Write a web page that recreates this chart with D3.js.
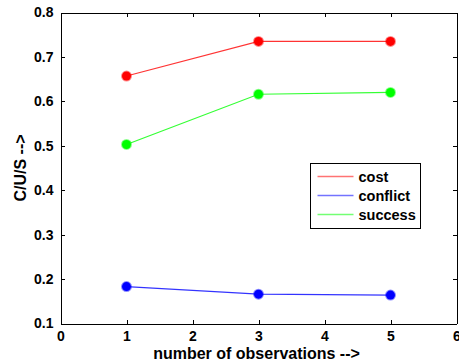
<!DOCTYPE html>
<html>
<head>
<meta charset="utf-8">
<script src="https://cdn.jsdelivr.net/npm/d3@7"></script>
<style>
  body { margin: 0; background: #fff; }
  svg text { font-family: Arial, "Liberation Sans", sans-serif; font-weight: bold; }
</style>
</head>
<body>
<svg id="chart"></svg>
<script>
const observations = [1, 3, 5];
const cost = [0.657, 0.735, 0.735];
const conflict = [0.183, 0.166, 0.164];
const success = [0.503, 0.616, 0.620];
const xTicks = [0, 1, 2, 3, 4, 5, 6];
const yTicks = [0.1, 0.2, 0.3, 0.4, 0.5, 0.6, 0.7, 0.8];
const seriesNames = ['cost', 'conflict', 'success'];
const seriesColors = ['#ff0000', '#0000ff', '#00ff00'];

const series = [cost, conflict, success].map((vals, i) => ({
  name: seriesNames[i],
  color: seriesColors[i],
  values: vals.map((v, j) => ({x: observations[j], y: v}))
}));

// dimensions
const W = 459, H = 362;
const margin = {top: 12.5, bottom: 38.5, left: 60.5, right: 2.5};
const width = W - margin.left - margin.right;
const height = H - margin.top - margin.bottom;

const x = d3.scaleLinear().domain([0, 6]).range([0, width]);
const y = d3.scaleLinear().domain([0.1, 0.8]).range([height, 0]);

const svg = d3.select('#chart').attr('width', W).attr('height', H);
const g = svg.append('g').attr('transform', 'translate(' + margin.left + ',' + margin.top + ')');

// axes (MATLAB style: ticks inward on all four sides)
const tl = 4;
const fmtY = d => d.toFixed(1);

g.append('g')
  .attr('class', 'axis x')
  .attr('transform', 'translate(0,' + height + ')')
  .call(d3.axisBottom(x).tickValues(xTicks).tickFormat(d3.format('d')).tickSize(-tl).tickPadding(8).tickSizeOuter(0));

g.append('g')
  .attr('class', 'axis y')
  .call(d3.axisLeft(y).tickValues(yTicks).tickFormat(fmtY).tickSize(-tl).tickPadding(7).tickSizeOuter(0));

g.append('g')
  .attr('class', 'axis top')
  .call(d3.axisTop(x).tickValues(xTicks).tickSize(-tl).tickFormat('').tickSizeOuter(0));

g.append('g')
  .attr('class', 'axis right')
  .attr('transform', 'translate(' + width + ',0)')
  .call(d3.axisRight(y).tickValues(yTicks).tickSize(-tl).tickFormat('').tickSizeOuter(0));

g.selectAll('.axis path, .axis line').attr('stroke', '#000').attr('shape-rendering', 'crispEdges');
g.selectAll('.axis text').attr('fill', '#000').style('font-size', '14px');

// lines
const line = d3.line().x(d => x(d.x)).y(d => y(d.y));

series.forEach(s => {
  g.append('path')
    .datum(s.values)
    .attr('fill', 'none')
    .attr('stroke', s.color)
    .attr('stroke-opacity', 0.8)
    .attr('stroke-width', 1.2)
    .attr('d', line);

  g.selectAll(null)
    .data(s.values)
    .enter()
    .append('circle')
    .attr('cx', d => x(d.x))
    .attr('cy', d => y(d.y))
    .attr('r', 4.5)
    .attr('fill', s.color)
    .attr('stroke', s.color)
    .attr('stroke-opacity', 0.45)
    .attr('stroke-width', 2);
});

// axis titles
svg.append('text')
  .attr('x', margin.left + width / 2 - 2)
  .attr('y', 359)
  .attr('text-anchor', 'middle')
  .style('font-size', '16px')
  .text('number of observations -->');

svg.append('text')
  .attr('transform', 'translate(26,' + (margin.top + height / 2) + ') rotate(-90)')
  .attr('text-anchor', 'middle')
  .style('font-size', '16px')
  .text('C/U/S -->');

// legend
const lg = svg.append('g').attr('transform', 'translate(310.5,163.5)');
lg.append('rect')
  .attr('width', 110)
  .attr('height', 65)
  .attr('fill', '#fff')
  .attr('stroke', '#000')
  .attr('shape-rendering', 'crispEdges');

series.forEach((s, i) => {
  const yy = 13 + i * 19;
  lg.append('line')
    .attr('x1', 7).attr('x2', 43)
    .attr('y1', yy).attr('y2', yy)
    .attr('stroke', s.color)
    .attr('stroke-opacity', 0.55)
    .attr('stroke-width', 1.5);
  lg.append('text')
    .attr('x', 48)
    .attr('y', yy + 5)
    .style('font-size', '14.5px')
    .text(s.name);
});
</script>
</body>
</html>
